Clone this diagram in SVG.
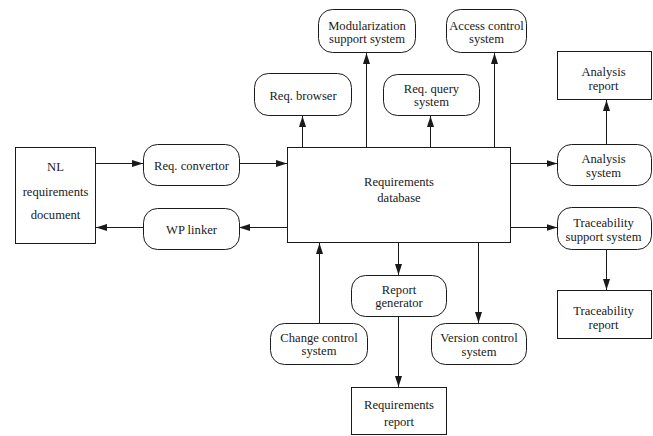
<svg xmlns="http://www.w3.org/2000/svg" width="653" height="436" viewBox="0 0 653 436">
  <defs>
    <style>
      .box { fill: #ffffff; stroke: #1a1a1a; stroke-width: 1; }
      .lbl { font-family: "Liberation Serif", "Times New Roman", serif; font-size: 12.6px; fill: #1a1a1a; text-anchor: middle; }
      .wire { fill: none; stroke: #1a1a1a; stroke-width: 1; marker-end: url(#arrow); }
    </style>
    <marker id="arrow" markerUnits="userSpaceOnUse" markerWidth="11" markerHeight="7" refX="11" refY="3.5" orient="auto">
      <path d="M0,0 L11,3.5 L0,7 z" fill="#1a1a1a"/>
    </marker>
  </defs>

  <rect width="653" height="436" fill="#ffffff"/>

  <!-- connectors -->
  <g id="connectors">
    <line class="wire" x1="96" y1="163.5" x2="143" y2="163.5"/>
    <line class="wire" x1="239" y1="163.5" x2="287" y2="163.5"/>
    <line class="wire" x1="287" y1="227.5" x2="239" y2="227.5"/>
    <line class="wire" x1="143" y1="227.5" x2="96" y2="227.5"/>
    <line class="wire" x1="302.5" y1="147" x2="302.5" y2="116"/>
    <line class="wire" x1="366.5" y1="147" x2="366.5" y2="53"/>
    <line class="wire" x1="430.5" y1="147" x2="430.5" y2="116"/>
    <line class="wire" x1="494.5" y1="147" x2="494.5" y2="53"/>
    <line class="wire" x1="511" y1="163.5" x2="557.5" y2="163.5"/>
    <line class="wire" x1="606.5" y1="144" x2="606.5" y2="100"/>
    <line class="wire" x1="511" y1="227.5" x2="557.5" y2="227.5"/>
    <line class="wire" x1="606.5" y1="250" x2="606.5" y2="290"/>
    <line class="wire" x1="398.5" y1="243" x2="398.5" y2="275"/>
    <line class="wire" x1="398.5" y1="317" x2="398.5" y2="387"/>
    <line class="wire" x1="319.5" y1="323" x2="319.5" y2="243"/>
    <line class="wire" x1="478.5" y1="243" x2="478.5" y2="323"/>
  </g>

  <!-- central store -->
  <g id="req-database">
    <rect class="box" x="287.5" y="147.5" width="223" height="95"/>
    <text class="lbl" x="399" y="186">Requirements</text>
    <text class="lbl" x="399" y="202">database</text>
  </g>

  <g id="nl-document">
    <rect class="box" x="15.5" y="147.5" width="80" height="96"/>
    <text class="lbl" x="55.5" y="171">NL</text>
    <text class="lbl" x="55.5" y="196">requirements</text>
    <text class="lbl" x="55.5" y="219">document</text>
  </g>

  <g id="req-convertor">
    <rect class="box" x="143.5" y="144.5" width="96" height="41" rx="14"/>
    <text class="lbl" x="191.5" y="170">Req. convertor</text>
  </g>

  <g id="wp-linker">
    <rect class="box" x="143.5" y="208.5" width="96" height="41" rx="14"/>
    <text class="lbl" x="191.5" y="234">WP linker</text>
  </g>

  <g id="req-browser">
    <rect class="box" x="254.5" y="73.5" width="97" height="42" rx="14"/>
    <text class="lbl" x="303" y="100">Req. browser</text>
  </g>

  <g id="modularization">
    <rect class="box" x="318.5" y="9.5" width="97" height="43" rx="14"/>
    <text class="lbl" x="367" y="30">Modularization</text>
    <text class="lbl" x="367" y="43">support system</text>
  </g>

  <g id="req-query">
    <rect class="box" x="383.5" y="74.5" width="96" height="41" rx="14"/>
    <text class="lbl" x="431.5" y="93">Req. query</text>
    <text class="lbl" x="431.5" y="106">system</text>
  </g>

  <g id="access-control">
    <rect class="box" x="446.5" y="9.5" width="80" height="43" rx="14"/>
    <text class="lbl" x="486.5" y="30">Access control</text>
    <text class="lbl" x="486.5" y="43">system</text>
  </g>

  <g id="analysis-report">
    <rect class="box" x="557.5" y="51.5" width="94" height="48"/>
    <text class="lbl" x="603.5" y="76">Analysis</text>
    <text class="lbl" x="603.5" y="90">report</text>
  </g>

  <g id="analysis-system">
    <rect class="box" x="557.5" y="144.5" width="94" height="41" rx="14"/>
    <text class="lbl" x="603.5" y="163">Analysis</text>
    <text class="lbl" x="603.5" y="177">system</text>
  </g>

  <g id="traceability-system">
    <rect class="box" x="557.5" y="207.5" width="94" height="42" rx="14"/>
    <text class="lbl" x="603.5" y="227">Traceability</text>
    <text class="lbl" x="603.5" y="241">support system</text>
  </g>

  <g id="traceability-report">
    <rect class="box" x="557.5" y="290.5" width="94" height="48"/>
    <text class="lbl" x="603.5" y="315">Traceability</text>
    <text class="lbl" x="603.5" y="329">report</text>
  </g>

  <g id="report-generator">
    <rect class="box" x="351.5" y="275.5" width="95" height="41" rx="14"/>
    <text class="lbl" x="399" y="294">Report</text>
    <text class="lbl" x="399" y="307">generator</text>
  </g>

  <g id="requirements-report">
    <rect class="box" x="351.5" y="387.5" width="95" height="47"/>
    <text class="lbl" x="399" y="409">Requirements</text>
    <text class="lbl" x="399" y="426">report</text>
  </g>

  <g id="change-control">
    <rect class="box" x="270.5" y="323.5" width="97" height="41" rx="14"/>
    <text class="lbl" x="319" y="342">Change control</text>
    <text class="lbl" x="319" y="355">system</text>
  </g>

  <g id="version-control">
    <rect class="box" x="431.5" y="323.5" width="95" height="41" rx="14"/>
    <text class="lbl" x="479" y="342">Version control</text>
    <text class="lbl" x="479" y="356">system</text>
  </g>
</svg>
